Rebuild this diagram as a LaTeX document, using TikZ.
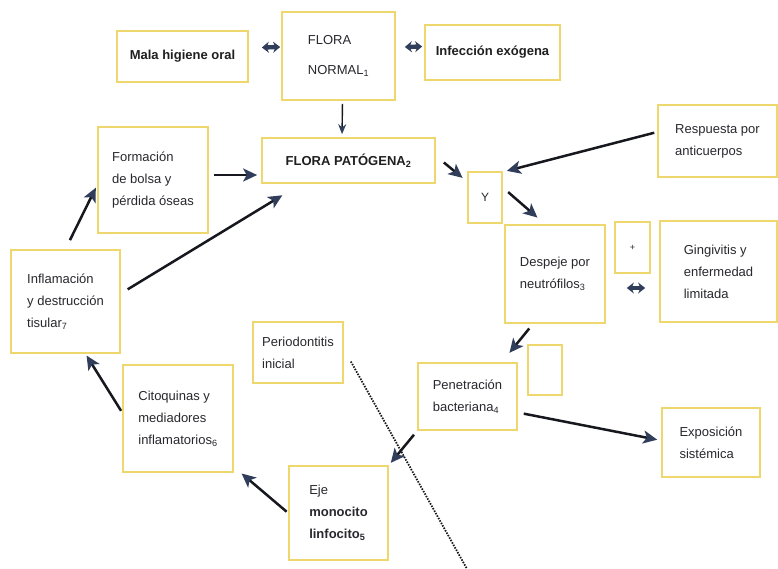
\documentclass[tikz,border=0pt]{standalone}
\usepackage{fontspec}
\setmainfont{Liberation Sans}
\usetikzlibrary{arrows.meta}
\definecolor{boxyellow}{RGB}{238,216,110}
\definecolor{arrline}{RGB}{22,24,30}
\definecolor{arrhead}{RGB}{48,62,92}
\definecolor{txt}{RGB}{40,40,46}
\begin{document}
\begin{tikzpicture}[x=1pt,y=-1pt,
  box/.style={draw=boxyellow, line width=1.7pt, fill=white, align=left, inner sep=2pt,
    text=txt, font=\fontsize{13}{22}\selectfont},
  bbox/.style={box, font=\fontsize{13}{20}\selectfont\bfseries, text=black!88},
  arr/.style={draw=arrline, line width=2.5pt, -{Stealth[length=14pt,width=13pt,inset=3.5pt,color=arrhead]}},
  thinarr/.style={draw=arrline, line width=1.4pt, -{Stealth[length=10pt,width=8pt,color=arrhead]}},
  glyph/.style={draw=arrhead, line width=4.4pt, {Stealth[length=7pt,width=11pt]}-{Stealth[length=7pt,width=11pt]}},
  dotline/.style={draw=arrline, line width=1.8pt, dash pattern=on 1.5pt off 1.3pt}
]
\useasboundingbox (0,0) rectangle (778,569);
\fill[white] (0,0) rectangle (778,569);

% boxes
\node[bbox, minimum width=131pt, minimum height=51pt] (mala) at (182.5,56.5) {Mala higiene oral};
\node[box, minimum width=113pt, minimum height=88pt, font=\fontsize{13}{30}\selectfont] (normal) at (338.5,56) {FLORA\\NORMAL\textsubscript{1}};
\node[bbox, minimum width=135pt, minimum height=55pt] (infec) at (492.5,52.5) {Infección exógena};
\node[bbox, minimum width=173pt, minimum height=45pt] (patog) at (348.5,160.5) {FLORA PATÓGENA\textsubscript{2}};
\node[box, minimum width=110pt, minimum height=106pt] (forma) at (153,180) {Formación\\de bolsa y\\pérdida óseas};
\node[box, minimum width=109pt, minimum height=103pt] (infl) at (65.5,301.5) {Inflamación\\y destrucción\\tisular\textsubscript{7}};
\node[box, minimum width=119pt, minimum height=72pt] (resp) at (717.5,141) {Respuesta por\\anticuerpos};
\node[box, minimum width=34pt, minimum height=51pt, font=\fontsize{12}{14}\selectfont] (Y) at (485,197.5) {Y};
\node[box, minimum width=100pt, minimum height=98pt] (desp) at (555,274) {Despeje por\\neutrófilos\textsubscript{3}};
\node[box, minimum width=35pt, minimum height=51pt, font=\fontsize{9}{11}\selectfont] (plus) at (632.5,247.5) {+};
\node[box, minimum width=117pt, minimum height=101pt] (ging) at (718.5,271.5) {Gingivitis y\\enfermedad\\limitada};
\node[box, minimum width=90pt, minimum height=61pt] (perio) at (298,352.5) {Periodontitis\\inicial};
\node[box, minimum width=99pt, minimum height=67pt] (pene) at (467.5,396.5) {Penetración\\bacteriana\textsubscript{4}};
\node[box, minimum width=34pt, minimum height=50pt] (empty) at (545,370) {};
\node[box, minimum width=98pt, minimum height=69pt] (expo) at (711,442.5) {Exposición\\sistémica};
\node[box, minimum width=110pt, minimum height=107pt] (cito) at (178,418.5) {Citoquinas y\\mediadores\\inflamatorios\textsubscript{6}};
\node[box, minimum width=99pt, minimum height=94pt] (eje) at (338.5,513) {Eje\\\textbf{monocito}\\\textbf{linfocito\textsubscript{5}}};

% small double-arrow glyphs
\draw[glyph] ([xshift=13pt,yshift=9pt]mala.east) -- ([xshift=-1pt,yshift=9pt]normal.west);
\draw[glyph] ([xshift=9pt,yshift=9pt]normal.east) -- ([xshift=-2pt,yshift=6pt]infec.west);
\draw[glyph] ([xshift=21pt,yshift=-14pt]desp.east) -- ([xshift=-14pt,yshift=-16.5pt]ging.west);

% connectors
\draw[thinarr, shorten <=3pt, shorten >=3pt] ([xshift=4pt]normal.south) -- ([xshift=-6.5pt]patog.north);
\draw[arr, shorten <=5pt, shorten >=4pt] ([yshift=5pt]forma.east) -- ([yshift=5pt]forma.east -| patog.west);
\draw[arr, shorten <=8pt, shorten >=22pt] ([yshift=8pt]infl.east) -- ([xshift=40pt]patog.south west);
\draw[arr, shorten <=10pt, shorten >=3pt] (infl.north) -- ([yshift=-5pt]forma.west);
\draw[arr, shorten >=2pt] ([xshift=8pt,yshift=-2pt]patog.east) -- ([xshift=-3pt,yshift=-8pt]Y.north west);
\draw[arr, shorten <=3pt, shorten >=1pt] ([yshift=9pt]resp.west) -- ([xshift=3pt]Y.north east);
\draw[arr, shorten <=7pt, shorten >=10pt] ([yshift=10pt]Y.east) -- ([xshift=-10pt]desp.north);
\draw[arr, shorten <=6pt, shorten >=12pt] ([xshift=-22pt]desp.south) -- ([xshift=-16pt]pene.north east);
\draw[arr, shorten <=6pt, shorten >=4pt] ([yshift=-16pt]pene.east) -- ([yshift=2pt]expo.west);
\draw[arr, shorten <=5pt, shorten >=3pt] (pene.south west) -- (eje.north east);
\draw[arr, shorten <=2pt, shorten >=1pt] (eje.west) -- ([xshift=7pt]cito.south east);
\draw[arr, shorten <=2pt, shorten >=2pt] ([yshift=6pt]cito.west) -- ([xshift=20pt]infl.south);

% dotted line
\coordinate (dotend) at (467,569);
\draw[dotline] ([xshift=7pt,yshift=-9pt]perio.east) -- (dotend);
\end{tikzpicture}
\end{document}
